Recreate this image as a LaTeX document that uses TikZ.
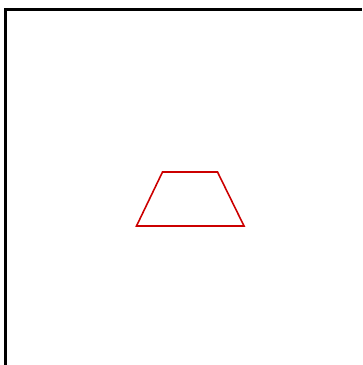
\documentclass[tikz,border=0pt]{standalone}
\usepackage{tikz}
\usetikzlibrary{calc,positioning}

\begin{document}
\begin{tikzpicture}[
  frame/.style={draw=black, line width=0.7pt},
  trap/.style={draw=red!80!black, line width=0.45pt, line join=miter},
]

\useasboundingbox (0,0) rectangle (3.62,3.65);

% frame, only its top and left sides fall inside
\coordinate (fl) at (0.055,0);
\coordinate (ftl) at (0.055,3.555);
\coordinate (fr) at (3.62,3.555);
\draw[frame] (fl) -- (ftl) -- (fr);

% trapezoid
\coordinate (tl) at (1.625,1.93);
\coordinate (tr) at (2.175,1.93);
\coordinate (br) at (2.44,1.39);
\coordinate (bl) at (1.365,1.39);
\draw[trap] (tl) -- (tr) -- (br) -- (bl) -- cycle;

\end{tikzpicture}
\end{document}
